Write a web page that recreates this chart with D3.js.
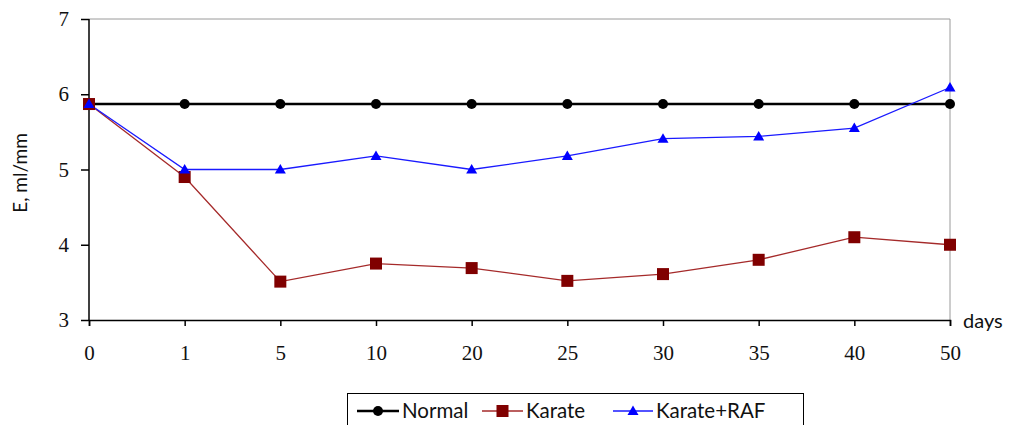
<!DOCTYPE html>
<html><head><meta charset="utf-8">
<script src="https://cdn.jsdelivr.net/npm/d3@7"></script>
<style>body{margin:0;background:#fff}svg{display:block}</style>
</head><body>
<svg id="c" width="1010" height="425"></svg>
<script>
const categories = ["0","1","5","10","20","25","30","35","40","50"];
const normalValues = [5.87,5.87,5.87,5.87,5.87,5.87,5.87,5.87,5.87,5.87];
const karateValues = [5.87,4.90,3.51,3.75,3.69,3.52,3.61,3.80,4.10,4.00];
const karateRafValues = [5.87,5.00,5.00,5.18,5.00,5.18,5.41,5.44,5.55,6.09];
const yTicks = [3,4,5,6,7];
const seriesNames = ["Normal","Karate","Karate+RAF"];

const svg = d3.select("#c");
const L=89, R=950, T=19, B=320;
const x = d3.scalePoint().domain(categories).range([L,R]).padding(0);
const y = d3.scaleLinear().domain([3,7]).range([B,T]);

svg.append("path").attr("d",`M${L},${T}H${R}V${B}`).attr("fill","none").attr("stroke","#9a9a9a").attr("stroke-width",1);

const tickFont = "'Liberation Serif', serif";
const gy = svg.append("g").attr("transform",`translate(${L},0)`)
  .call(d3.axisLeft(y).tickValues(yTicks).tickFormat(d3.format("d")).tickSize(8).tickPadding(12));
const gx = svg.append("g").attr("transform",`translate(0,${B})`)
  .call(d3.axisBottom(x).tickSize(6).tickPadding(19));
[gx,gy].forEach(g=>{
  g.selectAll("path,line").attr("stroke","#000").attr("stroke-width",1.5);
  g.selectAll("text").attr("fill","#111").attr("font-family",tickFont).attr("font-size",21);
});
gy.select(".domain").attr("d",`M0,${T}V${B}`);

svg.append("text").attr("transform","translate(27,173) rotate(-90)")
  .attr("text-anchor","middle").attr("font-family","Lato, sans-serif").attr("font-size",19)
  .attr("fill","#111").text("E, ml/mm");
svg.append("text").attr("x",963).attr("y",328).attr("font-family","Lato, sans-serif")
  .attr("font-size",20).attr("fill","#111").text("days");

const series = [
  {name:seriesNames[0], vals:normalValues, line:"#000", w:2.5, marker:"circle", fill:"#000"},
  {name:seriesNames[1], vals:karateValues, line:"#a52a2a", w:1.3, marker:"square", fill:"#800000"},
  {name:seriesNames[2], vals:karateRafValues, line:"#1a1aff", w:1.3, marker:"triangle", fill:"#0000ff"}
];
const line = d3.line().x((d,i)=>x(categories[i])).y(d=>y(d));
function drawMarker(g, type, cx, cy, fill){
  if(type==="circle") g.append("circle").attr("cx",cx).attr("cy",cy).attr("r",5).attr("fill",fill);
  else if(type==="square") g.append("rect").attr("x",cx-6).attr("y",cy-6).attr("width",12).attr("height",12).attr("fill",fill);
  else g.append("path").attr("d",`M${cx},${cy-5.5}L${cx+5.5},${cy+4}L${cx-5.5},${cy+4}Z`).attr("fill",fill);
}
series.forEach(s=>{
  svg.append("path").datum(s.vals).attr("d",line).attr("fill","none").attr("stroke",s.line).attr("stroke-width",s.w);
});
series.forEach(s=>{
  const g = svg.append("g");
  s.vals.forEach((v,i)=>drawMarker(g,s.marker,x(categories[i]),y(v),s.fill));
});

const lg = svg.append("g");
lg.append("rect").attr("x",347.5).attr("y",393.5).attr("width",456).attr("height",40).attr("fill","#fff").attr("stroke","#000").attr("stroke-width",1);
const items = [{x:357, tx:402},{x:482, tx:526},{x:613, tx:656}];
series.forEach((s,i)=>{
  const it = items[i], cy=411;
  lg.append("line").attr("x1",it.x).attr("x2",it.tx-3).attr("y1",cy).attr("y2",cy).attr("stroke",s.line).attr("stroke-width",s.w);
  drawMarker(lg,s.marker,(it.x+it.tx-3)/2,cy,s.fill);
  lg.append("text").attr("x",it.tx).attr("y",418).attr("font-family","Lato, sans-serif").attr("font-size",20.5).attr("fill","#111").text(s.name);
});
</script>
</body></html>
